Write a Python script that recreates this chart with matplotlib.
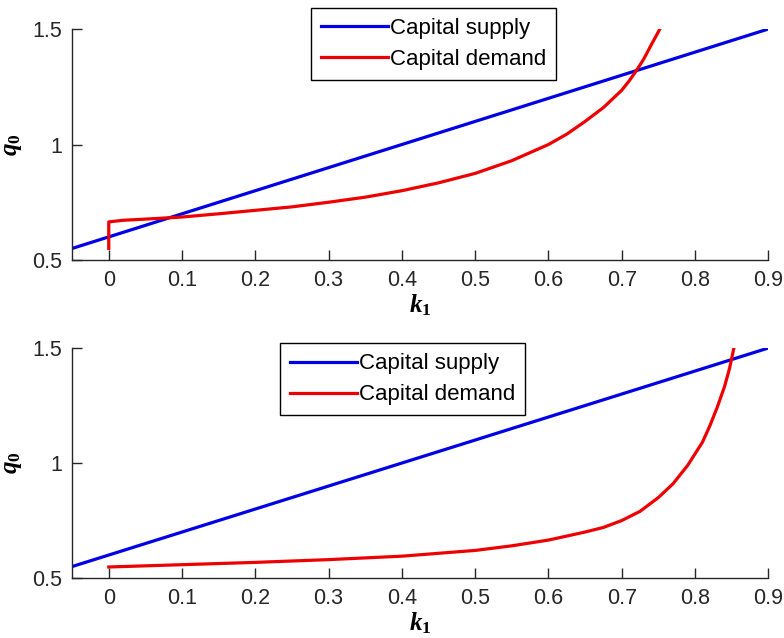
import numpy as np
import matplotlib
matplotlib.use("Agg")
import matplotlib.pyplot as plt

# ── Datos ─────────────────────────────────────────────────
supply_k = [-0.05, 0.9]
supply_q = [0.55, 1.5]

demand1_k = [0.0, 0.0, 0.02, 0.05, 0.1, 0.15, 0.2, 0.25, 0.3, 0.35, 0.4, 0.45, 0.5,
             0.55, 0.6, 0.625, 0.65, 0.675, 0.7, 0.71, 0.72, 0.73, 0.74, 0.752]
demand1_q = [0.55, 0.665, 0.672, 0.677, 0.686, 0.70, 0.715, 0.73, 0.75, 0.772, 0.80, 0.834, 0.875,
             0.93, 1.0, 1.045, 1.1, 1.16, 1.235, 1.275, 1.32, 1.37, 1.43, 1.5]

demand2_k = [0.0, 0.1, 0.2, 0.3, 0.4, 0.5, 0.55, 0.6, 0.65, 0.675, 0.7, 0.725, 0.75,
             0.77, 0.79, 0.8, 0.81, 0.82, 0.83, 0.84, 0.847, 0.853]
demand2_q = [0.548, 0.558, 0.568, 0.58, 0.595, 0.62, 0.64, 0.665, 0.70, 0.72, 0.75, 0.79, 0.85,
             0.91, 0.99, 1.04, 1.09, 1.16, 1.24, 1.33, 1.41, 1.5]

x_ticks = [0, 0.1, 0.2, 0.3, 0.4, 0.5, 0.6, 0.7, 0.8, 0.9]
x_ticklabels = ["0", "0.1", "0.2", "0.3", "0.4", "0.5", "0.6", "0.7", "0.8", "0.9"]
y_ticks = [0.5, 1.0, 1.5]
y_ticklabels = ["0.5", "1", "1.5"]

labels = ["Capital supply", "Capital demand"]

plt.rcParams["font.family"] = ["Liberation Sans", "DejaVu Sans"]
plt.rcParams["mathtext.fontset"] = "custom"
plt.rcParams["mathtext.it"] = "Liberation Serif:bold:italic"
plt.rcParams["mathtext.rm"] = "Liberation Serif:bold"

fig = plt.figure(figsize=(7.84, 6.38), dpi=100)
ax1 = fig.add_axes([0.092, 0.5925, 0.888, 0.362])
ax2 = fig.add_axes([0.092, 0.094, 0.888, 0.3605])

panels = [
    (ax1, demand1_k, demand1_q, (0.519, 1.09)),
    (ax2, demand2_k, demand2_q, (0.475, 1.02)),
]

for ax, dk, dq, anchor in panels:
    ax.plot(supply_k, supply_q, color="#0000e6", linewidth=2.3, label=labels[0])
    ax.plot(dk, dq, color="#ee0000", linewidth=2.3, label=labels[1])
    ax.set_xlim(-0.05, 0.9)
    ax.set_ylim(0.5, 1.5)
    ax.set_xticks(x_ticks)
    ax.set_xticklabels(x_ticklabels)
    ax.set_yticks(y_ticks)
    ax.set_yticklabels(y_ticklabels)
    ax.spines["top"].set_visible(False)
    ax.spines["right"].set_visible(False)
    for s in ("left", "bottom"):
        ax.spines[s].set_linewidth(1.0)
        ax.spines[s].set_color("#262626")
    ax.tick_params(direction="in", length=7, width=1.0, labelsize=15.5,
                   colors="#262626", pad=7)
    ax.set_xlabel(r"$k_1$", fontsize=18, labelpad=1)
    ax.set_ylabel(r"$q_0$", fontsize=18, labelpad=6)
    leg = ax.legend(loc="upper center", bbox_to_anchor=anchor, borderaxespad=0,
                    fontsize=16, fancybox=False, framealpha=1, edgecolor="black",
                    handlelength=3.0, handletextpad=0.1, borderpad=0.45,
                    labelspacing=0.45)
    leg.get_frame().set_linewidth(1.0)

fig.savefig("out.png", dpi=100)
